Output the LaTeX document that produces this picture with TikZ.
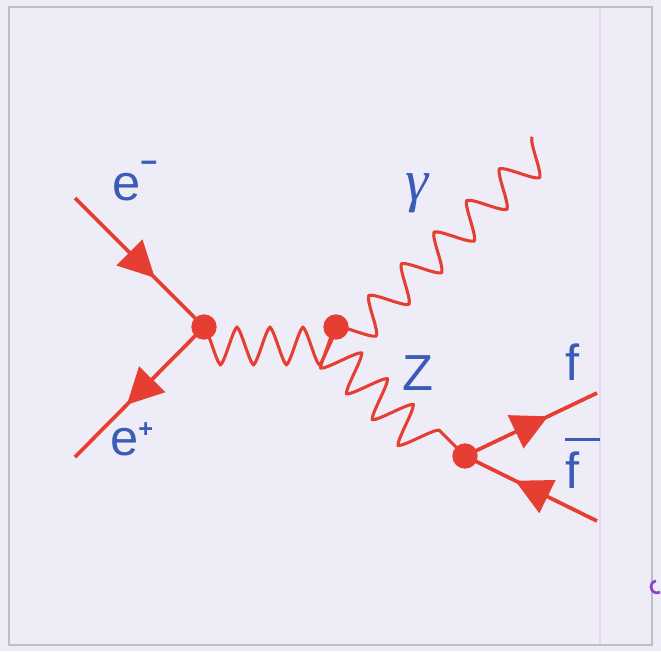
\documentclass[tikz,border=0pt]{standalone}
\usepackage{fontspec}
\setmainfont{Liberation Sans}
\newfontfamily\greekfont{Liberation Serif}
\usetikzlibrary{decorations.markings,arrows.meta}
\pgfdeclaredecoration{bosonwave}{wave}{
  \state{wave}[width=\pgfdecorationsegmentlength]{
    \pgfpathcurveto{\pgfpoint{0.14\pgfdecorationsegmentlength}{-0.1\pgfdecorationsegmentamplitude}}{\pgfpoint{0.36\pgfdecorationsegmentlength}{-0.9\pgfdecorationsegmentamplitude}}{\pgfpoint{0.5\pgfdecorationsegmentlength}{-\pgfdecorationsegmentamplitude}}
    \pgfpathcurveto{\pgfpoint{0.64\pgfdecorationsegmentlength}{-0.9\pgfdecorationsegmentamplitude}}{\pgfpoint{0.86\pgfdecorationsegmentlength}{-0.1\pgfdecorationsegmentamplitude}}{\pgfpoint{\pgfdecorationsegmentlength}{0pt}}
  }
  \state{final}{\pgfpathlineto{\pgfpointdecoratedpathlast}}
}
\definecolor{fred}{RGB}{230,62,50}
\definecolor{fblue}{RGB}{58,92,182}
\definecolor{bgcol}{RGB}{238,236,246}
\definecolor{framecol}{RGB}{190,190,196}
\definecolor{pinkline}{RGB}{236,214,238}
\definecolor{purp}{RGB}{150,60,210}
\tikzset{
  vertex/.style={circle, fill=fred, inner sep=0pt, minimum size=19pt},
  boson/.style 2 args={draw=fred, line width=2.3pt, line join=round, decorate,
    decoration={bosonwave, segment length=#1, amplitude=#2}},
  fermion/.style={draw=fred, line width=2.8pt, postaction={decorate,
    decoration={markings, mark=at position #1 with {\arrow{Triangle[length=27pt,width=27pt]}}}}},
  lbl/.style={text=fblue, font=\fontsize{38pt}{40pt}\selectfont, inner sep=0pt},
}
\begin{document}
\begin{tikzpicture}[x=0.75pt,y=-0.75pt]
\useasboundingbox (0,0) rectangle (661,651);
\fill[bgcol] (0,0) rectangle (661,651);
\draw[pinkline, line width=1.5pt] (600,7) -- (600,645);
\draw[framecol, line width=1.3pt] (9,7) rectangle (652,645);
\draw[purp, line width=2pt] (660,592) arc (60:260:6);

% vertices and free ends
\coordinate (A0) at (204,327);
\coordinate (B0) at (336,327);
\coordinate (C0) at (465,456);
\coordinate (em) at (75,198);
\coordinate (ep) at (75,457);
\coordinate (gam) at (532,137);
\coordinate (fo) at (597,393);
\coordinate (fb) at (597,521);

% propagators
\draw[boson={24.74pt}{28.5pt}] (A0) -- (B0);
\draw[boson={27.35pt}{30pt}] (B0) -- (C0);
\draw[boson={34.11pt}{26pt}] (B0) -- (gam);

% fermion lines
\draw[fermion=0.62] (em) -- (A0);
\draw[fermion=0.6] (A0) -- (ep);
\draw[fermion=0.63] (C0) -- (fo);
\draw[fermion=0.62] (fb) -- (C0);

% vertex dots
\node[vertex] (A) at (A0) {};
\node[vertex] (B) at (B0) {};
\node[vertex] (C) at (C0) {};

% labels
\node[lbl, anchor=base west] (lem) at (112,200) {e\raisebox{20.5pt}{\fontsize{22pt}{22pt}\selectfont\bfseries −}};
\node[lbl, anchor=base west] (lep) at (110,455) {e\raisebox{13pt}{\fontsize{19pt}{19pt}\selectfont\bfseries +}};
\node[lbl, font=\fontsize{44pt}{46pt}\selectfont\greekfont\itshape] (lgam) at (417,193) {γ};
\node[lbl] (lZ) at (418,373) {Z};
\node[lbl, anchor=base west] (lf) at (565,380) {f};
\node[lbl, anchor=base west] (lfb) at (565,488) {\rlap{\rule[35pt]{26pt}{2.4pt}}f};
\end{tikzpicture}
\end{document}
